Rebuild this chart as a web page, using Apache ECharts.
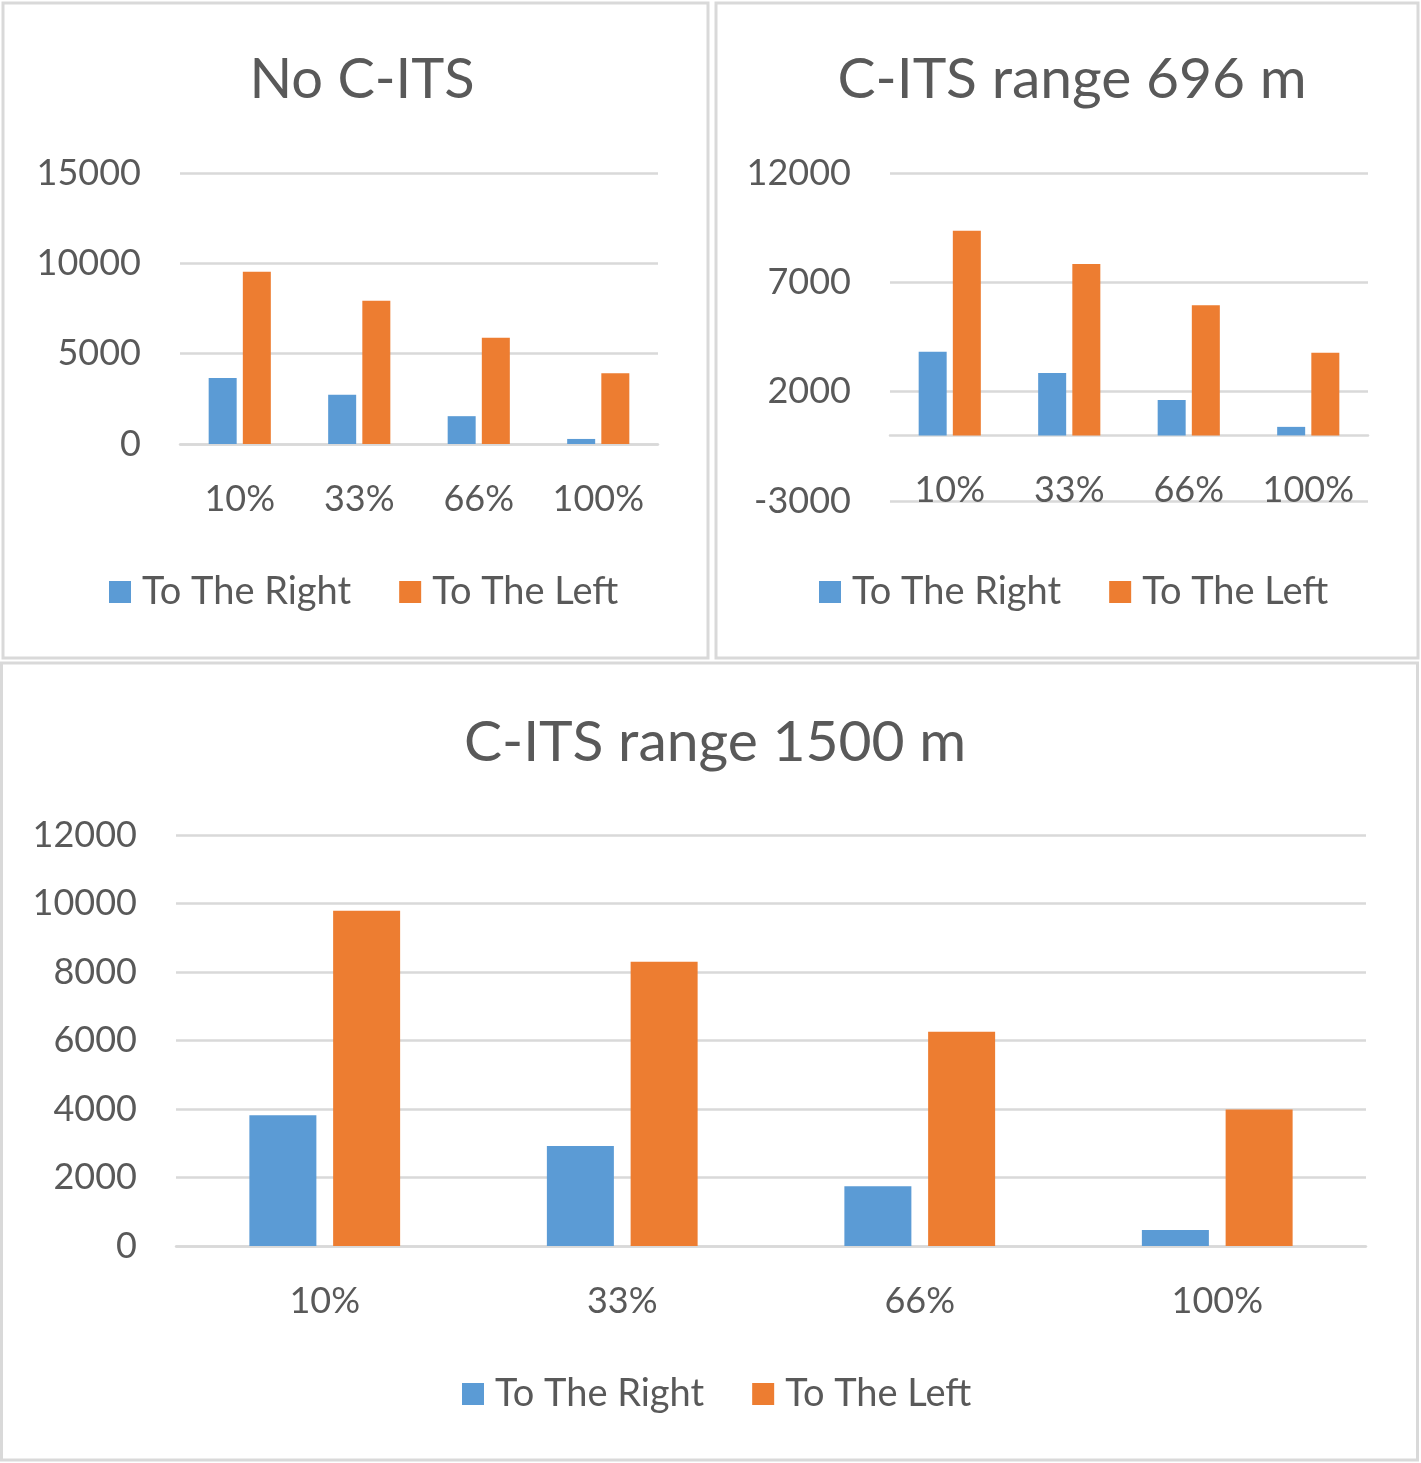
<!DOCTYPE html>
<html><head><meta charset="utf-8">
<script src="https://cdn.jsdelivr.net/npm/echarts@6/dist/echarts.min.js"></script>
<style>html,body{margin:0;padding:0;background:#fff}#c{width:1421px;height:1463px}</style>
</head><body><div id="c"></div>
<script>
const categories = ['10%', '33%', '66%', '100%'];
const seriesNames = ['To The Right', 'To The Left'];
const titles = ['No C-ITS', 'C-ITS range 696 m', 'C-ITS range 1500 m'];
const noCitsRight = [3660, 2730, 1540, 280];
const noCitsLeft = [9540, 7930, 5880, 3920];
const r696Right = [3830, 2850, 1620, 390];
const r696Left = [9360, 7840, 5950, 3780];
const r1500Right = [3820, 2920, 1745, 465];
const r1500Left = [9790, 8300, 6255, 3985];

const FONT = 'Lato';
const grey = '#595959';
const lineC = '#d9d9d9';
const blue = '#5b9bd5', orange = '#ed7d31';

const chart = echarts.init(document.getElementById('c'), null, {renderer: 'canvas'});

const grids = [
  {left: 180, top: 173, width: 478, height: 271},
  {left: 890, top: 173, width: 478, height: 328},
  {left: 176, top: 835, width: 1190, height: 411}
];
const yCfg = [
  {min: 0, max: 15000, interval: 5000},
  {min: -3000, max: 12000, interval: 5000},
  {min: 0, max: 12000, interval: 2000}
];
const data = [[noCitsRight, noCitsLeft], [r696Right, r696Left], [r1500Right, r1500Left]];
const barW = [28, 28, 67];
const barGap = ['22%', '22%', '25%'];
const xMargin = [37, -29, 37];
const titleSize = [56, 57, 57];

const xAxes = [], yAxes = [], series = [];
for (let i = 0; i < 3; i++) {
  xAxes.push({
    type: 'category', gridIndex: i, data: categories,
    axisLine: {show: true, onZero: true, lineStyle: {color: lineC, width: 2.5}},
    axisTick: {show: false},
    axisLabel: {color: grey, fontFamily: FONT, fontSize: 36, margin: xMargin[i]}
  });
  yAxes.push(Object.assign({
    type: 'value', gridIndex: i,
    axisLine: {show: false}, axisTick: {show: false},
    splitLine: {show: true, lineStyle: {color: lineC, width: 2.5}},
    axisLabel: {color: grey, fontFamily: FONT, fontSize: 36, margin: 39, formatter: v => String(v)}
  }, yCfg[i]));
  for (let s = 0; s < 2; s++) {
    series.push({
      type: 'bar', name: seriesNames[s], xAxisIndex: i, yAxisIndex: i,
      data: data[i][s], barWidth: barW[i], barGap: barGap[i],
      itemStyle: {color: s === 0 ? blue : orange},
      animation: false
    });
  }
}

const titleCfg = [
  {x: 357, y: 47},
  {x: 1067, y: 46},
  {x: 710, y: 709}
];
const legendCfg = [
  {left: 104, top: 568},
  {left: 814, top: 568},
  {left: 457, top: 1370}
];

chart.setOption({
  animation: false,
  grid: grids,
  xAxis: xAxes,
  yAxis: yAxes,
  series: series,
  title: titles.map((t, i) => ({
    text: t, left: titleCfg[i].x, top: titleCfg[i].y, textAlign: 'center',
    textStyle: {color: grey, fontFamily: FONT, fontSize: titleSize[i], fontWeight: 'normal'}
  })),
  legend: legendCfg.map(l => ({
    data: seriesNames, left: l.left, top: l.top, icon: 'rect',
    itemWidth: 22, itemHeight: 22, itemGap: 48, selectedMode: false,
    textStyle: {color: grey, fontFamily: FONT, fontSize: 38, padding: [0, 0, 0, 6]}
  })),
  graphic: [
    {type: 'rect', shape: {x: 3, y: 3, width: 705, height: 655}, style: {fill: 'none', stroke: lineC, lineWidth: 3}, silent: true},
    {type: 'rect', shape: {x: 716, y: 3, width: 702, height: 655}, style: {fill: 'none', stroke: lineC, lineWidth: 3}, silent: true},
    {type: 'rect', shape: {x: 1.5, y: 663, width: 1416, height: 797}, style: {fill: 'none', stroke: lineC, lineWidth: 3}, silent: true}
  ]
});
</script></body></html>
